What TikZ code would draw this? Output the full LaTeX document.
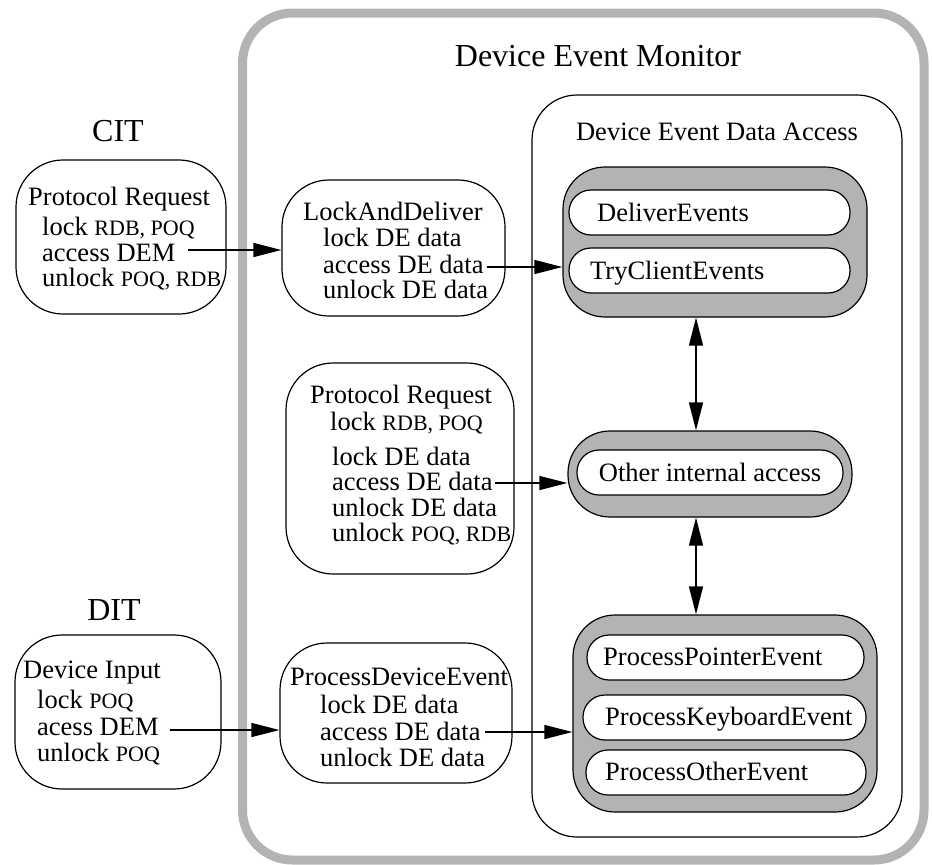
\documentclass[tikz,border=0pt]{standalone}
\usepackage{fontspec}
\setmainfont{Liberation Serif}
\usetikzlibrary{arrows.meta}
\definecolor{frame}{HTML}{B3B3B3}
\newcommand{\sm}[1]{{\fontsize{22}{22}\selectfont #1}}
\tikzset{
  every picture/.style={x=1pt,y=-1pt},
  box/.style={draw=black,line width=1.2pt,rounded corners=47pt,fill=white,inner sep=0pt},
  grp/.style={draw=black,line width=1.2pt,rounded corners=42pt,fill=frame,inner sep=0pt},
  pill/.style={draw=black,line width=1.2pt,rounded corners=22pt,fill=white,inner sep=0pt},
  txt/.style={anchor=base west,inner sep=0pt,font=\fontsize{26.5}{27}\selectfont},
  ctxt/.style={anchor=base,inner sep=0pt,font=\fontsize{26.5}{27}\selectfont},
  big/.style={anchor=base,inner sep=0pt,font=\fontsize{32}{34}\selectfont},
  arr/.style={line width=1.2pt,-{Triangle[length=28pt,width=14pt]}},
  darr/.style={line width=1.2pt,{Triangle[length=28pt,width=14pt]}-{Triangle[length=28pt,width=14pt]}},
}
\newcommand{\rbox}[6]{\node[#1,minimum width=#4-#3,minimum height=#6-#5] (#2) at ({(#3+#4)/2},{(#5+#6)/2}) {};}
\begin{document}
\begin{tikzpicture}
\useasboundingbox (0,0) rectangle (932,865);
% outer frame
\draw[frame,line width=9pt,rounded corners=50pt] (242.5,13) rectangle (924,860);
\node[big] (dem) at (598,66) {Device Event Monitor};
% DEDA
\draw[line width=1.2pt,rounded corners=45pt] (532,95) rectangle (902,837);
\node[ctxt] (deda) at (717,140) {Device Event Data Access};
\node[big] (cit) at (118,141) {CIT};
\node[big] (dit) at (114,620) {DIT};
% left boxes
\rbox{box}{citb}{16}{226}{160}{314}
\rbox{box}{lad}{282}{505}{180}{316}
\rbox{box}{prb}{286}{514}{363}{574}
\rbox{box}{ditb}{15}{221}{635}{789}
\rbox{box}{pde}{280}{512}{643}{783}
% groups
\rbox{grp}{g1}{563}{867}{167}{317}
\rbox{pill}{p1}{569}{850}{190}{235}
\rbox{pill}{p2}{569}{850}{248}{293}
\rbox{grp}{g2}{568}{852}{431}{517}
\rbox{pill}{p3}{577}{843}{450}{495}
\rbox{grp}{g3}{573}{877}{615}{812}
\rbox{pill}{p4}{587}{864}{635}{680}
\rbox{pill}{p5}{583}{866}{695}{740}
\rbox{pill}{p6}{586}{866}{750}{795}
\node[txt] (t1) at (597,221) {DeliverEvents};
\node[txt] (t2) at (590,279) {TryClientEvents};
\node[ctxt] (t3) at (710,481) {Other internal access};
\node[txt] (t4) at (603,665) {ProcessPointerEvent};
\node[txt] (t5) at (605,725) {ProcessKeyboardEvent};
\node[txt] (t6) at (605,780) {ProcessOtherEvent};
% CIT text
\node[txt] (c1) at (28,205) {Protocol Request};
\node[txt] (c2) at (42,235) {lock \sm{RDB, POQ}};
\node[txt] (c3) at (42,261) {access DEM};
\node[txt] (c4) at (42,286) {unlock \sm{POQ, RDB}};
% LAD text
\node[txt] (l1) at (303,220) {LockAndDeliver};
\node[txt] (l2) at (323,246) {lock DE data};
\node[txt] (l3) at (323,273) {access DE data};
\node[txt] (l4) at (323,298) {unlock DE data};
% PR2 text
\node[txt] (r1) at (310,403) {Protocol Request};
\node[txt] (r2) at (330,430) {lock \sm{RDB, POQ}};
\node[txt] (r3) at (332,465) {lock DE data};
\node[txt] (r4) at (332,490) {access DE data};
\node[txt] (r5) at (332,516) {unlock DE data};
\node[txt] (r6) at (332,541) {unlock \sm{POQ, RDB}};
% DIT text
\node[txt] (d1) at (23,678) {Device Input};
\node[txt] (d2) at (37,708) {lock \sm{POQ}};
\node[txt] (d3) at (37,735) {acess DEM};
\node[txt] (d4) at (37,761) {unlock \sm{POQ}};
% PDE text
\node[txt] (e1) at (290,685) {ProcessDeviceEvent};
\node[txt] (e2) at (320,713) {lock DE data};
\node[txt] (e3) at (320,740) {access DE data};
\node[txt] (e4) at (320,766) {unlock DE data};
% arrows
\coordinate (a1) at (188,250);
\draw[arr] (a1) -- (a1 -| lad.west);
\coordinate (a2) at (487,267);
\draw[arr] (a2) -- (a2 -| g1.west);
\coordinate (a3) at (495,483);
\draw[arr] (a3) -- (a3 -| g2.west);
\coordinate (a4) at (170,730);
\draw[arr] (a4) -- (a4 -| pde.west);
\coordinate (a5) at (485,732);
\draw[arr] (a5) -- (a5 -| g3.west);
\coordinate (v) at (696,0);
\draw[darr] (v |- g1.south) -- (v |- g2.north);
\draw[darr] (v |- g2.south) -- (v |- g3.north);
\end{tikzpicture}
\end{document}
